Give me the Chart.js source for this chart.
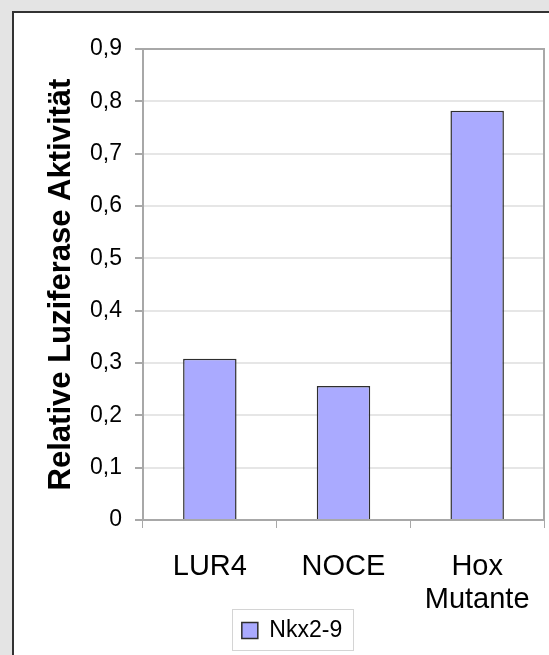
<!DOCTYPE html>
<html>
<head>
<meta charset="utf-8">
<script src="https://cdn.jsdelivr.net/npm/chart.js@4.4.1/dist/chart.umd.min.js"></script>
<style>
  body { margin: 0; background: #e4e4e4; width: 549px; height: 655px; overflow: hidden; }
  #rahmen { position: absolute; left: 12px; top: 11px; width: 560px; height: 680px;
            background: #fff; border-left: 2px solid #333; border-top: 2px solid #333; }
  #wrap { position: absolute; left: 0; top: 0; width: 535px; height: 642px; }
</style>
</head>
<body>
<div id="rahmen"><div id="wrap"><canvas id="grafica"></canvas></div></div>
<script>
// datos
const kategorien = ['LUR4', 'NOCE', ['Hox', 'Mutante']];
const werteNkx = [0.308, 0.256, 0.782];
const serieName = 'Nkx2-9';
const achsenTitel = 'Relative Luziferase Aktivität';

const fuente = 'Arial, "Liberation Sans", sans-serif';

// marco alrededor del área de trazado y de la leyenda
const marcoPlugin = {
    id: 'marco',
    afterDatasetsDraw(chart) {
        const a = chart.chartArea;
        const ctx = chart.ctx;
        ctx.save();
        ctx.strokeStyle = '#a8a8a8';
        ctx.lineWidth = 2;
        ctx.beginPath();
        ctx.moveTo(a.left, a.top);
        ctx.lineTo(a.right, a.top);
        ctx.lineTo(a.right, a.bottom);
        ctx.stroke();
        ctx.restore();
    },
    afterDraw(chart) {
        const hb = chart.legend.legendHitBoxes;
        if (!hb || !hb.length) return;
        const ctx = chart.ctx;
        const b = hb[0];
        ctx.save();
        ctx.strokeStyle = '#d4d4d4';
        ctx.lineWidth = 1;
        ctx.strokeRect(Math.round(b.left) - 9.5, Math.round(b.top) - 9.5, Math.round(b.width) + 21, Math.round(b.height) + 18);
        ctx.restore();
    }
};

const graph = document.getElementById('grafica');
new Chart(graph, {
    type: 'bar',
    data: {
        labels: kategorien,
        datasets: [{
            label: serieName,
            data: werteNkx,
            backgroundColor: '#aaaaff',
            borderColor: '#2e2e2e',
            borderWidth: 1.5,
            barPercentage: 0.8,
            categoryPercentage: 0.5
        }]
    },
    options: {
        responsive: true,
        maintainAspectRatio: false,
        animation: false,
        layout: { padding: { left: 26, right: 5, top: 36, bottom: 3 } },
        plugins: {
            legend: {
                position: 'bottom',
                labels: {
                    color: '#000',
                    font: { family: fuente, size: 23 },
                    boxWidth: 16,
                    boxHeight: 16,
                    padding: 4
                }
            },
            tooltip: { enabled: false }
        },
        scales: {
            x: {
                grid: { display: true, drawOnChartArea: false, offset: true, tickLength: 8, tickColor: '#a8a8a8', lineWidth: 1 },
                border: { color: '#a8a8a8', width: 2 },
                ticks: { color: '#000', font: { family: fuente, size: 29, lineHeight: 1.15 }, padding: 22, maxRotation: 0 },
                afterFit(s) { s.height = 95; s.paddingLeft = 0; s.paddingRight = 0; }
            },
            y: {
                min: 0,
                max: 0.9,
                grid: { color: '#e6e6e6', lineWidth: 2, tickLength: 8, tickColor: '#a8a8a8' },
                border: { color: '#a8a8a8', width: 2 },
                ticks: {
                    stepSize: 0.1,
                    color: '#000',
                    padding: 13,
                    font: { family: fuente, size: 23 },
                    callback: v => v.toFixed(1).replace('.', ',').replace(/^0,0$/, '0')
                },
                title: {
                    display: true,
                    text: achsenTitel,
                    color: '#000',
                    font: { family: fuente, size: 31, weight: 'bold' },
                    padding: { top: 3, bottom: 0 }
                },
                afterFit(s) { s.width = 103; }
            }
        }
    },
    plugins: [marcoPlugin]
});
</script>
</body>
</html>
